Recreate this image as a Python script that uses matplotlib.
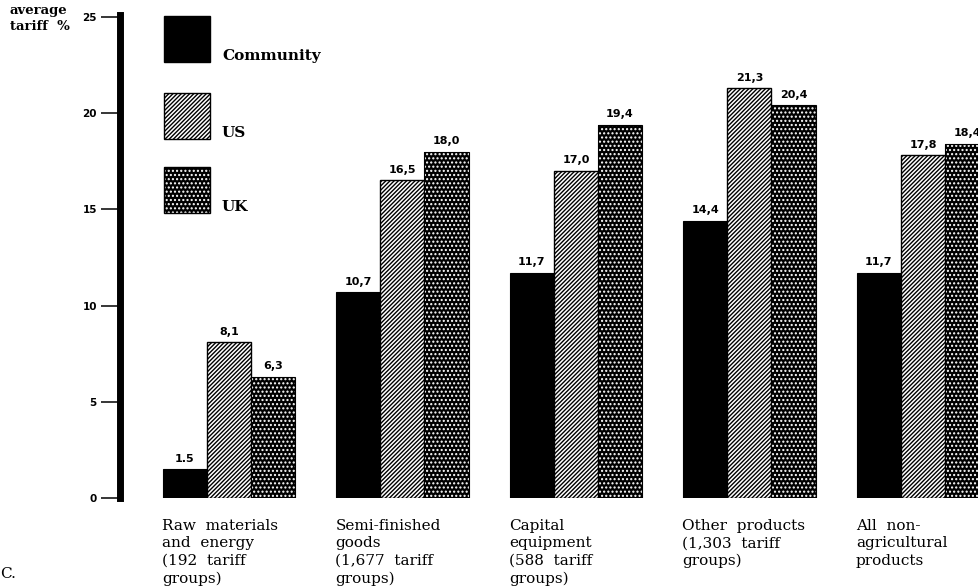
import matplotlib
matplotlib.use('Agg')
import matplotlib.pyplot as plt
from matplotlib.patches import Rectangle
import numpy as np

categories = [
    'Raw  materials\nand  energy\n(192  tariff\ngroups)',
    'Semi-finished\ngoods\n(1,677  tariff\ngroups)',
    'Capital\nequipment\n(588  tariff\ngroups)',
    'Other  products\n(1,303  tariff\ngroups)',
    'All  non-\nagricultural\nproducts',
]
series = ['Community', 'US', 'UK']
community = [1.5, 10.7, 11.7, 14.4, 11.7]
us = [8.1, 16.5, 17.0, 21.3, 17.8]
uk = [6.3, 18.0, 19.4, 20.4, 18.4]
community_labels = ['1.5', '10,7', '11,7', '14,4', '11,7']
us_labels = ['8,1', '16,5', '17,0', '21,3', '17,8']
uk_labels = ['6,3', '18,0', '19,4', '20,4', '18,4']
yticks = [0, 5, 10, 15, 20, 25]

W, H = 979, 588
plt.rcParams['hatch.linewidth'] = 1.0
serif = 'DejaVu Serif'
sans = 'DejaVu Sans'
US_HATCH = '/' * 8
UK_HATCH = '.' * 4

fig = plt.figure(figsize=(W / 100, H / 100), dpi=100)
ax = fig.add_axes([120.5 / W, (H - 498) / H, 1 - 120.5 / W, (498 - 15) / H])

x = np.arange(len(categories))
bw = 0.254
ax.bar(x - bw, community, bw, color='black', edgecolor='black', linewidth=0.8)
ax.bar(x, us, bw, color='white', edgecolor='black', hatch=US_HATCH, linewidth=1.0)
ax.bar(x + bw, uk, bw, color='black', edgecolor='white', hatch=UK_HATCH, linewidth=0)
ax.bar(x + bw, uk, bw, color='none', edgecolor='black', linewidth=0.8)

for off, vals, labs in [(-bw, community, community_labels), (0, us, us_labels), (bw, uk, uk_labels)]:
    for xi, v, lab in zip(x, vals, labs):
        ax.annotate(lab, (xi + off, v), xytext=(0, 4), textcoords='offset points',
                    ha='center', va='bottom', fontsize=8, fontweight='bold',
                    family=sans, annotation_clip=False)

ax.set_xlim(-0.625, 4.323)
ax.set_ylim(0, 25.1)
for s in ['top', 'right', 'bottom']:
    ax.spines[s].set_visible(False)
ax.spines['left'].set_linewidth(5)
ax.set_xticks([])
ax.set_yticks(yticks)
ax.set_yticklabels([str(t) for t in yticks], fontsize=7.5, fontweight='bold', family=sans)
ax.tick_params(axis='y', direction='out', length=13.5, width=1.1, pad=3.5)

# category labels under each group, left aligned
for xi, cat in zip(x, categories):
    ax.text(xi - 1.5 * bw - 0.005, -1.1, cat, ha='left', va='top', fontsize=11,
            family=serif, linespacing=1.3, clip_on=False)

# legend keys
styles = [dict(facecolor='black', edgecolor='black'),
          dict(facecolor='white', edgecolor='black', hatch=US_HATCH),
          dict(facecolor='black', edgecolor='white', hatch=UK_HATCH)]
tops = [16, 93, 167]
for name, st, top in zip(series, styles, tops):
    fig.add_artist(Rectangle((164 / W, (H - top - 46) / H), 46 / W, 46 / H,
                             transform=fig.transFigure, linewidth=0 if name == 'UK' else 1, **st))
    if name == 'UK':
        fig.add_artist(Rectangle((164 / W, (H - top - 46) / H), 46 / W, 46 / H,
                                 transform=fig.transFigure, facecolor='none',
                                 edgecolor='black', linewidth=1))
    fig.text(222 / W, (H - top - 46 + 2) / H, name, ha='left', va='baseline',
             fontsize=11, fontweight='bold', family=serif)

fig.text(10 / W, (H - 4) / H, 'average\ntariff  %', ha='left', va='top',
         fontsize=9.5, fontweight='bold', family=serif, linespacing=1.3)
fig.text(0.5 / W, 10 / H, 'C.', ha='left', va='baseline', fontsize=11, family=serif)

fig.savefig('out.png', dpi=100)
